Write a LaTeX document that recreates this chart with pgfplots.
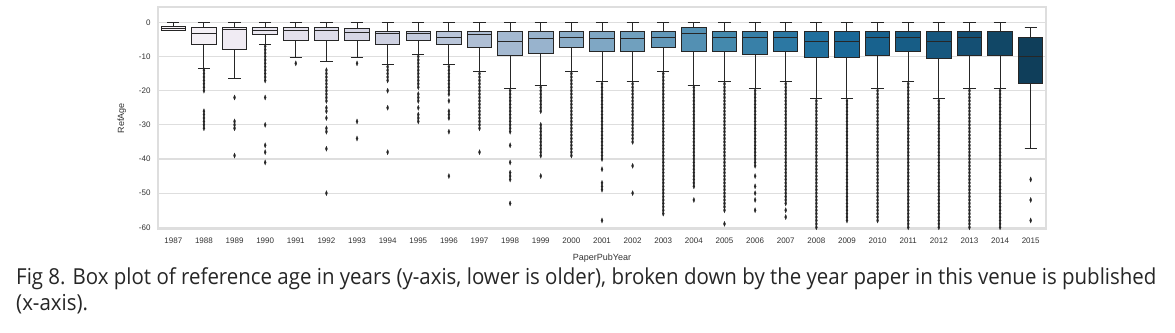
\documentclass[border=0pt]{standalone}
\usepackage{pgfplots}
\pgfplotsset{compat=1.18}
\usepgfplotslibrary{statistics}
\usepackage{fontspec}
\setmainfont{Liberation Sans}
\newfontfamily\capfont{Open Sans}[FakeStretch=0.93]
\usepackage{xcolor}
\definecolor{lnc}{RGB}{38,38,38}
\definecolor{gridc}{RGB}{222,222,222}
\definecolor{txt}{RGB}{50,50,50}
% PuBu palette, desaturated the way seaborn does it
\definecolor{c00}{RGB}{249,244,248}
\definecolor{c01}{RGB}{244,240,245}
\definecolor{c02}{RGB}{240,235,243}
\definecolor{c03}{RGB}{234,231,240}
\definecolor{c04}{RGB}{228,225,236}
\definecolor{c05}{RGB}{221,220,233}
\definecolor{c06}{RGB}{214,214,229}
\definecolor{c07}{RGB}{206,209,225}
\definecolor{c08}{RGB}{196,203,221}
\definecolor{c09}{RGB}{185,197,217}
\definecolor{c10}{RGB}{175,191,213}
\definecolor{c11}{RGB}{164,185,209}
\definecolor{c12}{RGB}{152,179,205}
\definecolor{c13}{RGB}{139,173,200}
\definecolor{c14}{RGB}{127,167,196}
\definecolor{c15}{RGB}{112,160,190}
\definecolor{c16}{RGB}{98,152,185}
\definecolor{c17}{RGB}{83,144,179}
\definecolor{c18}{RGB}{68,137,173}
\definecolor{c19}{RGB}{56,128,168}
\definecolor{c20}{RGB}{44,120,163}
\definecolor{c21}{RGB}{32,111,157}
\definecolor{c22}{RGB}{26,104,151}
\definecolor{c23}{RGB}{24,98,142}
\definecolor{c24}{RGB}{23,93,134}
\definecolor{c25}{RGB}{22,87,126}
\definecolor{c26}{RGB}{20,79,115}
\definecolor{c27}{RGB}{17,71,102}
\definecolor{c28}{RGB}{15,62,90}
\pgfplotsset{
  yr/.style={draw=lnc, line width=1pt, fill=#1, mark=diamond*,
    mark size=2.6pt, mark options={fill=lnc, draw=lnc, xscale=0.55, line width=0.2pt}},
}
\begin{document}
\begin{tikzpicture}
\path[use as bounding box] (0pt,0pt) rectangle (1175pt,-332pt);
\begin{axis}[
  at={(158pt,-229pt)}, anchor=south west,
  scale only axis, width=888pt, height=222pt,
  xmin=-0.5, xmax=28.5, ymin=-60.5, ymax=4.5,
  xtick={0,...,28},
  xticklabels={1987,1988,1989,1990,1991,1992,1993,1994,1995,1996,1997,1998,1999,2000,2001,2002,2003,2004,2005,2006,2007,2008,2009,2010,2011,2012,2013,2014,2015},
  ytick={-60,-50,...,0},
  major tick length=0pt,
  ymajorgrids, grid style={gridc, line width=1.1pt},
  axis line style={gridc, line width=1.1pt},
  tick label style={font=\fontsize{8}{9}\selectfont, text=txt},
  /pgf/number format/assume math mode=true,
  xticklabel shift=5pt, yticklabel shift=4pt,
  xlabel={PaperPubYear}, ylabel={RefAge},
  label style={font=\fontsize{9}{10}\selectfont, text=txt},
  xlabel style={yshift=-4pt}, ylabel style={yshift=6pt},
  boxplot/draw direction=y,
  boxplot/box extend=0.8,
  boxplot/whisker extend=0.4,
  clip=false,
]
% 1987
\addplot[yr=c00, boxplot prepared={draw position=0, median=-1.8, lower quartile=-2.4, upper quartile=-1.3, lower whisker=-2.4, upper whisker=0}] coordinates {};
% 1988
\addplot[yr=c01, boxplot prepared={draw position=1, median=-3.3, lower quartile=-6.5, upper quartile=-1.4, lower whisker=-13.5, upper whisker=0}] coordinates {
(1,-14)(1,-15)(1,-16)(1,-17)(1,-18)(1,-19)(1,-20)(1,-26)(1,-27)(1,-28)(1,-29)(1,-30)(1,-31)};
% 1989
\addplot[yr=c02, boxplot prepared={draw position=2, median=-2.1, lower quartile=-7.9, upper quartile=-1.4, lower whisker=-16.3, upper whisker=0}] coordinates {
(2,-22)(2,-29)(2,-30)(2,-31)(2,-39)};
% 1990
\addplot[yr=c03, boxplot prepared={draw position=3, median=-2.3, lower quartile=-3.5, upper quartile=-1.4, lower whisker=-6.5, upper whisker=0}] coordinates {
(3,-7)(3,-8)(3,-9)(3,-10)(3,-11)(3,-12)(3,-13)(3,-14)(3,-15)(3,-16)(3,-17)(3,-22)(3,-30)(3,-36)(3,-38)(3,-41)};
% 1991
\addplot[yr=c04, boxplot prepared={draw position=4, median=-2.3, lower quartile=-5.3, upper quartile=-1.4, lower whisker=-10.3, upper whisker=0}] coordinates {
(4,-12)};
% 1992
\addplot[yr=c05, boxplot prepared={draw position=5, median=-2.3, lower quartile=-5.3, upper quartile=-1.4, lower whisker=-11.4, upper whisker=0}] coordinates {
(5,-14)(5,-15)(5,-16)(5,-17)(5,-18)(5,-19)(5,-20)(5,-21)(5,-22)(5,-23)(5,-25)(5,-26)(5,-28)(5,-31)(5,-32)(5,-37)(5,-50)};
% 1993
\addplot[yr=c06, boxplot prepared={draw position=6, median=-3.1, lower quartile=-5.3, upper quartile=-1.8, lower whisker=-10.3, upper whisker=0}] coordinates {
(6,-12)(6,-29)(6,-34)};
% 1994
\addplot[yr=c07, boxplot prepared={draw position=7, median=-3.2, lower quartile=-6.5, upper quartile=-2.7, lower whisker=-12.2, upper whisker=0}] coordinates {
(7,-13)(7,-14)(7,-15)(7,-16)(7,-17)(7,-20)(7,-25)(7,-38)};
% 1995
\addplot[yr=c08, boxplot prepared={draw position=8, median=-3.2, lower quartile=-5.3, upper quartile=-2.7, lower whisker=-9.3, upper whisker=0}] coordinates {
(8,-10)(8,-11)(8,-12)(8,-13)(8,-14)(8,-15)(8,-16)(8,-17)(8,-18)(8,-19)(8,-21)(8,-22)(8,-23)(8,-25)(8,-27)(8,-28)(8,-29)};
% 1996
\addplot[yr=c09, boxplot prepared={draw position=9, median=-4.5, lower quartile=-6.5, upper quartile=-2.7, lower whisker=-12.2, upper whisker=0}] coordinates {
(9,-13)(9,-14)(9,-15)(9,-16)(9,-17)(9,-18)(9,-19)(9,-20)(9,-21)(9,-23)(9,-26)(9,-27)(9,-28)(9,-32)(9,-45)};
% 1997
\addplot[yr=c10, boxplot prepared={draw position=10, median=-3.5, lower quartile=-7.5, upper quartile=-2.7, lower whisker=-14.4, upper whisker=0}] coordinates {
(10,-15)(10,-16)(10,-17)(10,-18)(10,-19)(10,-20)(10,-21)(10,-22)(10,-23)(10,-24)(10,-25)(10,-26)(10,-27)(10,-28)(10,-29)(10,-30)(10,-31)(10,-38)};
% 1998
\addplot[yr=c11, boxplot prepared={draw position=11, median=-5.6, lower quartile=-9.6, upper quartile=-2.7, lower whisker=-19.4, upper whisker=0}] coordinates {
(11,-20)(11,-21)(11,-22)(11,-23)(11,-24)(11,-25)(11,-26)(11,-27)(11,-28)(11,-29)(11,-30)(11,-31)(11,-32)(11,-36)(11,-41)(11,-44)(11,-45)(11,-46)(11,-53)};
% 1999
\addplot[yr=c12, boxplot prepared={draw position=12, median=-4.6, lower quartile=-9.1, upper quartile=-2.7, lower whisker=-18.5, upper whisker=0}] coordinates {
(12,-19)(12,-20)(12,-21)(12,-22)(12,-23)(12,-24)(12,-25)(12,-26)(12,-30)(12,-31)(12,-32)(12,-33)(12,-34)(12,-35)(12,-36)(12,-37)(12,-38)(12,-39)(12,-45)};
% 2000
\addplot[yr=c13, boxplot prepared={draw position=13, median=-4.4, lower quartile=-7.5, upper quartile=-2.7, lower whisker=-14.4, upper whisker=0}] coordinates {
(13,-15)(13,-16)(13,-17)(13,-18)(13,-19)(13,-20)(13,-21)(13,-22)(13,-23)(13,-24)(13,-25)(13,-26)(13,-27)(13,-28)(13,-29)(13,-30)(13,-31)(13,-32)(13,-33)(13,-34)(13,-35)(13,-36)(13,-37)(13,-38)(13,-39)};
% 2001
\addplot[yr=c14, boxplot prepared={draw position=14, median=-4.6, lower quartile=-8.5, upper quartile=-2.7, lower whisker=-17.3, upper whisker=0}] coordinates {
(14,-18)(14,-19)(14,-20)(14,-21)(14,-22)(14,-23)(14,-24)(14,-25)(14,-26)(14,-27)(14,-28)(14,-29)(14,-30)(14,-31)(14,-32)(14,-33)(14,-34)(14,-35)(14,-36)(14,-37)(14,-38)(14,-39)(14,-40)(14,-43)(14,-47)(14,-48)(14,-49)(14,-58)};
% 2002
\addplot[yr=c15, boxplot prepared={draw position=15, median=-4.6, lower quartile=-8.5, upper quartile=-2.7, lower whisker=-17.3, upper whisker=0}] coordinates {
(15,-18)(15,-19)(15,-20)(15,-21)(15,-22)(15,-23)(15,-24)(15,-25)(15,-26)(15,-27)(15,-28)(15,-29)(15,-30)(15,-31)(15,-32)(15,-33)(15,-34)(15,-35)(15,-42)(15,-50)};
% 2003
\addplot[yr=c16, boxplot prepared={draw position=16, median=-4.4, lower quartile=-7.5, upper quartile=-2.7, lower whisker=-14.4, upper whisker=0}] coordinates {
(16,-15)(16,-16)(16,-17)(16,-18)(16,-19)(16,-20)(16,-21)(16,-22)(16,-23)(16,-24)(16,-25)(16,-26)(16,-27)(16,-28)(16,-29)(16,-30)(16,-31)(16,-32)(16,-33)(16,-34)(16,-35)(16,-36)(16,-37)(16,-38)(16,-39)(16,-40)(16,-41)(16,-42)(16,-43)(16,-44)(16,-45)(16,-46)(16,-47)(16,-48)(16,-49)(16,-50)(16,-51)(16,-52)(16,-53)(16,-54)(16,-55)(16,-56)};
% 2004
\addplot[yr=c17, boxplot prepared={draw position=17, median=-3.2, lower quartile=-8.5, upper quartile=-1.5, lower whisker=-18.5, upper whisker=0}] coordinates {
(17,-19)(17,-20)(17,-21)(17,-22)(17,-23)(17,-24)(17,-25)(17,-26)(17,-27)(17,-28)(17,-29)(17,-30)(17,-31)(17,-32)(17,-33)(17,-34)(17,-35)(17,-36)(17,-37)(17,-38)(17,-39)(17,-40)(17,-41)(17,-42)(17,-43)(17,-44)(17,-45)(17,-46)(17,-47)(17,-48)(17,-52)};
% 2005
\addplot[yr=c18, boxplot prepared={draw position=18, median=-4.4, lower quartile=-8.5, upper quartile=-2.7, lower whisker=-17.3, upper whisker=0}] coordinates {
(18,-18)(18,-19)(18,-20)(18,-21)(18,-22)(18,-23)(18,-24)(18,-25)(18,-26)(18,-27)(18,-28)(18,-29)(18,-30)(18,-31)(18,-32)(18,-33)(18,-34)(18,-35)(18,-36)(18,-37)(18,-38)(18,-39)(18,-40)(18,-41)(18,-42)(18,-43)(18,-44)(18,-45)(18,-46)(18,-47)(18,-48)(18,-49)(18,-50)(18,-51)(18,-52)(18,-53)(18,-54)(18,-55)(18,-59)};
% 2006
\addplot[yr=c19, boxplot prepared={draw position=19, median=-4.4, lower quartile=-9.3, upper quartile=-2.7, lower whisker=-19.4, upper whisker=0}] coordinates {
(19,-20)(19,-21)(19,-22)(19,-23)(19,-24)(19,-25)(19,-26)(19,-27)(19,-28)(19,-29)(19,-30)(19,-31)(19,-32)(19,-33)(19,-34)(19,-35)(19,-36)(19,-37)(19,-38)(19,-39)(19,-40)(19,-41)(19,-42)(19,-45)(19,-48)(19,-50)(19,-52)(19,-55)};
% 2007
\addplot[yr=c20, boxplot prepared={draw position=20, median=-4.4, lower quartile=-8.5, upper quartile=-2.7, lower whisker=-17.3, upper whisker=0}] coordinates {
(20,-18)(20,-19)(20,-20)(20,-21)(20,-22)(20,-23)(20,-24)(20,-25)(20,-26)(20,-27)(20,-28)(20,-29)(20,-30)(20,-31)(20,-32)(20,-33)(20,-34)(20,-35)(20,-36)(20,-37)(20,-38)(20,-39)(20,-40)(20,-41)(20,-42)(20,-43)(20,-44)(20,-45)(20,-46)(20,-47)(20,-48)(20,-49)(20,-50)(20,-51)(20,-52)(20,-53)(20,-55)(20,-57)};
% 2008
\addplot[yr=c21, boxplot prepared={draw position=21, median=-5.5, lower quartile=-10.3, upper quartile=-2.7, lower whisker=-22.2, upper whisker=0}] coordinates {
(21,-23)(21,-24)(21,-25)(21,-26)(21,-27)(21,-28)(21,-29)(21,-30)(21,-31)(21,-32)(21,-33)(21,-34)(21,-35)(21,-36)(21,-37)(21,-38)(21,-39)(21,-40)(21,-41)(21,-42)(21,-43)(21,-44)(21,-45)(21,-46)(21,-47)(21,-48)(21,-49)(21,-50)(21,-51)(21,-52)(21,-53)(21,-54)(21,-55)(21,-56)(21,-57)(21,-58)(21,-59)(21,-60)};
% 2009
\addplot[yr=c22, boxplot prepared={draw position=22, median=-5.5, lower quartile=-10.3, upper quartile=-2.7, lower whisker=-22.2, upper whisker=0}] coordinates {
(22,-23)(22,-24)(22,-25)(22,-26)(22,-27)(22,-28)(22,-29)(22,-30)(22,-31)(22,-32)(22,-33)(22,-34)(22,-35)(22,-36)(22,-37)(22,-38)(22,-39)(22,-40)(22,-41)(22,-42)(22,-43)(22,-44)(22,-45)(22,-46)(22,-47)(22,-48)(22,-49)(22,-50)(22,-51)(22,-52)(22,-53)(22,-54)(22,-55)(22,-56)(22,-57)(22,-58)};
% 2010
\addplot[yr=c23, boxplot prepared={draw position=23, median=-4.4, lower quartile=-9.6, upper quartile=-2.7, lower whisker=-19.4, upper whisker=0}] coordinates {
(23,-20)(23,-21)(23,-22)(23,-23)(23,-24)(23,-25)(23,-26)(23,-27)(23,-28)(23,-29)(23,-30)(23,-31)(23,-32)(23,-33)(23,-34)(23,-35)(23,-36)(23,-37)(23,-38)(23,-39)(23,-40)(23,-41)(23,-42)(23,-43)(23,-44)(23,-45)(23,-46)(23,-47)(23,-48)(23,-49)(23,-50)(23,-51)(23,-52)(23,-53)(23,-54)(23,-55)(23,-56)(23,-57)(23,-58)};
% 2011
\addplot[yr=c24, boxplot prepared={draw position=24, median=-4.4, lower quartile=-8.5, upper quartile=-2.7, lower whisker=-17.3, upper whisker=0}] coordinates {
(24,-18)(24,-19)(24,-20)(24,-21)(24,-22)(24,-23)(24,-24)(24,-25)(24,-26)(24,-27)(24,-28)(24,-29)(24,-30)(24,-31)(24,-32)(24,-33)(24,-34)(24,-35)(24,-36)(24,-37)(24,-38)(24,-39)(24,-40)(24,-41)(24,-42)(24,-43)(24,-44)(24,-45)(24,-46)(24,-47)(24,-48)(24,-49)(24,-50)(24,-51)(24,-52)(24,-53)(24,-54)(24,-55)(24,-56)(24,-57)(24,-58)(24,-59)(24,-60)};
% 2012
\addplot[yr=c25, boxplot prepared={draw position=25, median=-5.5, lower quartile=-10.5, upper quartile=-2.7, lower whisker=-22.2, upper whisker=0}] coordinates {
(25,-23)(25,-24)(25,-25)(25,-26)(25,-27)(25,-28)(25,-29)(25,-30)(25,-31)(25,-32)(25,-33)(25,-34)(25,-35)(25,-36)(25,-37)(25,-38)(25,-39)(25,-40)(25,-41)(25,-42)(25,-43)(25,-44)(25,-45)(25,-46)(25,-47)(25,-48)(25,-49)(25,-50)(25,-51)(25,-52)(25,-53)(25,-54)(25,-55)(25,-56)(25,-57)(25,-58)(25,-59)(25,-60)};
% 2013
\addplot[yr=c26, boxplot prepared={draw position=26, median=-4.4, lower quartile=-9.6, upper quartile=-2.7, lower whisker=-19.4, upper whisker=0}] coordinates {
(26,-20)(26,-21)(26,-22)(26,-23)(26,-24)(26,-25)(26,-26)(26,-27)(26,-28)(26,-29)(26,-30)(26,-31)(26,-32)(26,-33)(26,-34)(26,-35)(26,-36)(26,-37)(26,-38)(26,-39)(26,-40)(26,-41)(26,-42)(26,-43)(26,-44)(26,-45)(26,-46)(26,-47)(26,-48)(26,-49)(26,-50)(26,-51)(26,-52)(26,-53)(26,-54)(26,-55)(26,-56)(26,-57)(26,-58)(26,-59)(26,-60)};
% 2014
\addplot[yr=c27, boxplot prepared={draw position=27, median=-2.7, lower quartile=-9.6, upper quartile=-2.7, lower whisker=-19.4, upper whisker=0}] coordinates {
(27,-20)(27,-21)(27,-22)(27,-23)(27,-24)(27,-25)(27,-26)(27,-27)(27,-28)(27,-29)(27,-30)(27,-31)(27,-32)(27,-33)(27,-34)(27,-35)(27,-36)(27,-37)(27,-38)(27,-39)(27,-40)(27,-41)(27,-42)(27,-43)(27,-44)(27,-45)(27,-46)(27,-47)(27,-48)(27,-49)(27,-50)(27,-51)(27,-52)(27,-53)(27,-54)(27,-55)(27,-56)(27,-57)(27,-58)(27,-59)(27,-60)};
% 2015
\addplot[yr=c28, boxplot prepared={draw position=28, median=-10, lower quartile=-18, upper quartile=-4.5, lower whisker=-37, upper whisker=-1.4}] coordinates {
(28,-46)(28,-52)(28,-58)};
\end{axis}
\node[anchor=base west, inner sep=0pt, text=black!85, font=\capfont\fontsize{22}{26}\selectfont] at (16pt,-284pt)
  {Fig 8. Box plot of reference age in years (y-axis, lower is older), broken down by the year paper in this venue is published};
\node[anchor=base west, inner sep=0pt, text=black!85, font=\capfont\fontsize{22}{26}\selectfont] at (16pt,-310pt)
  {(x-axis).};
\end{tikzpicture}
\end{document}
